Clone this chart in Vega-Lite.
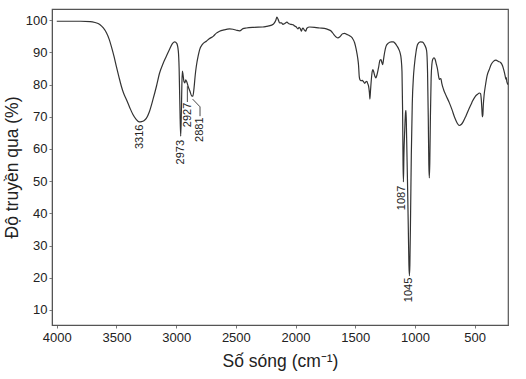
{
  "$schema": "https://vega.github.io/schema/vega-lite/v6.json",
  "width": 456,
  "height": 316,
  "autosize": {"type": "none"},
  "padding": {"left": 52, "top": 9, "right": 18, "bottom": 54},
  "background": "white",
  "config": {
    "view": {"stroke": "#555", "strokeWidth": 1.2},
    "axis": {
      "labelFont": "Liberation Sans",
      "titleFont": "Liberation Sans",
      "labelFontSize": 13,
      "titleFontSize": 17.5,
      "titleFontWeight": "normal",
      "labelColor": "#222",
      "titleColor": "#222",
      "domainColor": "#555",
      "tickColor": "#777",
      "tickSize": 3,
      "grid": false
    }
  },
  "datasets": {
    "spec": [
      {"w":4000,"t":99.7},{"w":3900,"t":99.7},{"w":3800,"t":99.7},{"w":3720,"t":99.6},{"w":3680,"t":99.3},
      {"w":3640,"t":98.7},{"w":3610,"t":97.6},{"w":3584,"t":96.1},{"w":3560,"t":94},{"w":3543,"t":91.9},
      {"w":3520,"t":88.7},{"w":3501,"t":85.7},{"w":3480,"t":82.5},{"w":3459,"t":79.5},{"w":3440,"t":77.3},
      {"w":3417,"t":75.4},{"w":3390,"t":73},{"w":3362,"t":70.7},{"w":3335,"t":69.2},{"w":3310,"t":68.4},
      {"w":3290,"t":68.5},{"w":3270,"t":68.8},{"w":3250,"t":69.5},{"w":3225,"t":71.5},{"w":3194,"t":75.4},
      {"w":3165,"t":79.5},{"w":3138,"t":83.7},{"w":3110,"t":86.5},{"w":3082,"t":88.8},{"w":3055,"t":91},
      {"w":3030,"t":92.8},{"w":3012,"t":93.3},{"w":2995,"t":92.8},{"w":2982,"t":90.5},{"w":2975,"t":85},
      {"w":2968,"t":72},{"w":2962,"t":64},{"w":2957,"t":70},{"w":2952,"t":80},{"w":2948,"t":84.2},
      {"w":2942,"t":83},{"w":2935,"t":81},{"w":2927,"t":80.5},{"w":2920,"t":81.5},{"w":2912,"t":81},
      {"w":2900,"t":79.5},{"w":2885,"t":78},{"w":2870,"t":76.5},{"w":2860,"t":76.4},{"w":2850,"t":79},
      {"w":2840,"t":83},{"w":2831,"t":85.7},{"w":2815,"t":89},{"w":2803,"t":90.9},{"w":2780,"t":92.5},
      {"w":2747,"t":93.5},{"w":2720,"t":94.3},{"w":2690,"t":95},{"w":2663,"t":96},{"w":2636,"t":96.6},
      {"w":2600,"t":97},{"w":2552,"t":97.3},{"w":2524,"t":97.2},{"w":2496,"t":96.9},{"w":2468,"t":96.7},
      {"w":2440,"t":97.4},{"w":2412,"t":97.6},{"w":2350,"t":97.8},{"w":2273,"t":97.9},{"w":2244,"t":98.1},
      {"w":2200,"t":98.5},{"w":2180,"t":99},{"w":2165,"t":100},{"w":2156,"t":101},{"w":2145,"t":100.2},
      {"w":2133,"t":99.2},{"w":2118,"t":99.2},{"w":2105,"t":98.7},{"w":2090,"t":99},{"w":2072,"t":99.4},
      {"w":2055,"t":98.9},{"w":2035,"t":98.7},{"w":2020,"t":98.6},{"w":2007,"t":98.2},{"w":1995,"t":98},
      {"w":1980,"t":97.3},{"w":1970,"t":97.8},{"w":1960,"t":97.4},{"w":1951,"t":96.6},{"w":1944,"t":97.3},
      {"w":1938,"t":97.6},{"w":1927,"t":97},{"w":1915,"t":96.6},{"w":1905,"t":97.5},{"w":1882,"t":97.9},
      {"w":1840,"t":97.8},{"w":1798,"t":97.6},{"w":1742,"t":97.3},{"w":1720,"t":97},{"w":1700,"t":96.6},
      {"w":1680,"t":95.6},{"w":1660,"t":94.8},{"w":1645,"t":94.5},{"w":1625,"t":95},{"w":1605,"t":95.8},
      {"w":1589,"t":95.9},{"w":1570,"t":95.6},{"w":1547,"t":95.2},{"w":1525,"t":94.5},{"w":1505,"t":93},
      {"w":1492,"t":91},{"w":1480,"t":88.5},{"w":1472,"t":86},{"w":1466,"t":82.5},{"w":1460,"t":81.5},
      {"w":1452,"t":81.2},{"w":1440,"t":81.3},{"w":1432,"t":81},{"w":1420,"t":80.4},{"w":1410,"t":80.9},
      {"w":1402,"t":81},{"w":1395,"t":80.3},{"w":1388,"t":79.5},{"w":1381,"t":77.5},{"w":1377,"t":75.5},
      {"w":1372,"t":78},{"w":1365,"t":81.5},{"w":1358,"t":84},{"w":1352,"t":84.7},{"w":1345,"t":84},
      {"w":1335,"t":82.6},{"w":1327,"t":82.1},{"w":1318,"t":83},{"w":1305,"t":85.2},{"w":1292,"t":87.6},
      {"w":1284,"t":87.8},{"w":1276,"t":86.8},{"w":1270,"t":86.2},{"w":1262,"t":88},{"w":1254,"t":89.9},
      {"w":1242,"t":91.9},{"w":1225,"t":92.8},{"w":1198,"t":93.3},{"w":1180,"t":93.3},{"w":1170,"t":93},
      {"w":1150,"t":92},{"w":1135,"t":91},{"w":1125,"t":90},{"w":1115,"t":88},{"w":1108,"t":84},
      {"w":1103,"t":72},{"w":1099,"t":55},{"w":1096,"t":49.8},{"w":1092,"t":58},{"w":1085,"t":66},
      {"w":1078,"t":71.5},{"w":1074,"t":72},{"w":1070,"t":65},{"w":1062,"t":50},{"w":1055,"t":35},
      {"w":1050,"t":24},{"w":1046,"t":20.6},{"w":1042,"t":24},{"w":1036,"t":40},{"w":1030,"t":58},
      {"w":1022,"t":74},{"w":1012,"t":82.5},{"w":1005,"t":85.7},{"w":990,"t":90.3},{"w":977,"t":92.5},
      {"w":955,"t":93.3},{"w":935,"t":93.2},{"w":918,"t":92.3},{"w":902,"t":90.6},{"w":894,"t":84},
      {"w":888,"t":70},{"w":883,"t":55},{"w":879,"t":51},{"w":875,"t":56},{"w":870,"t":70},
      {"w":864,"t":82},{"w":857,"t":86.5},{"w":851,"t":87.8},{"w":840,"t":88.3},{"w":830,"t":87.8},
      {"w":820,"t":86.3},{"w":810,"t":84.7},{"w":800,"t":82.3},{"w":795,"t":81.6},{"w":788,"t":81.8},
      {"w":782,"t":81.9},{"w":775,"t":80.5},{"w":760,"t":78.5},{"w":740,"t":76.7},{"w":712,"t":74.4},
      {"w":690,"t":72.3},{"w":665,"t":69.6},{"w":645,"t":68},{"w":628,"t":67.3},{"w":612,"t":67.6},
      {"w":595,"t":68.5},{"w":573,"t":70.2},{"w":550,"t":72.2},{"w":530,"t":73.8},{"w":517,"t":74.9},
      {"w":495,"t":76.3},{"w":475,"t":77},{"w":460,"t":77.4},{"w":450,"t":77.2},{"w":444,"t":75.5},
      {"w":439,"t":72.5},{"w":435,"t":70},{"w":431,"t":70.5},{"w":427,"t":73.5},{"w":420,"t":76.8},
      {"w":410,"t":79.5},{"w":395,"t":82.8},{"w":377,"t":84.7},{"w":360,"t":86.3},{"w":340,"t":87.3},
      {"w":321,"t":87.6},{"w":300,"t":87.2},{"w":280,"t":86.8},{"w":265,"t":85.8},{"w":255,"t":84.5},
      {"w":243,"t":82.6},{"w":238,"t":81.7},{"w":234,"t":82.2},{"w":230,"t":81},{"w":226,"t":80.5},
      {"w":222,"t":80}
    ],
    "leaders": [
      {"w":2906,"t":79.5,"w2":2906,"t2":74.6},
      {"w":2862,"t":75.5,"w2":2800,"t2":73.1},
      {"w":2800,"t":73.1,"w2":2800,"t2":70.2}
    ],
    "labels": [
      {"w":3305,"t":67.6,"label":"3316"},
      {"w":2962,"t":62.8,"label":"2973"},
      {"w":2900,"t":74.4,"label":"2927"},
      {"w":2799,"t":69.8,"label":"2881"},
      {"w":1112,"t":48.6,"label":"1087"},
      {"w":1047,"t":20,"label":"1045"}
    ]
  },
  "encoding": {
    "x": {
      "field": "w", "type": "quantitative",
      "scale": {"domain": [220, 4040], "reverse": true, "nice": false, "zero": false},
      "axis": {"values": [500,1000,1500,2000,2500,3000,3500,4000], "format": "d", "title": "Số sóng (cm⁻¹)", "labelPadding": 3, "titlePadding": 8, "labelOverlap": false, "labelFlush": false}
    },
    "y": {
      "field": "t", "type": "quantitative",
      "scale": {"domain": [5.3, 103.5], "nice": false, "zero": false},
      "axis": {"values": [10,20,30,40,50,60,70,80,90,100], "format": "d", "title": "Độ truyền qua (%)", "labelPadding": 2, "titlePadding": 4, "labelOverlap": false, "labelFlush": false, "labelBound": false}
    }
  },
  "layer": [
    {
      "data": {"name": "spec"},
      "mark": {"type": "line", "color": "#333", "strokeWidth": 1.2, "interpolate": "monotone"}
    },
    {
      "data": {"name": "leaders"},
      "mark": {"type": "rule", "color": "#333", "strokeWidth": 0.9},
      "encoding": {
        "x2": {"field": "w2"},
        "y2": {"field": "t2"}
      }
    },
    {
      "data": {"name": "labels"},
      "mark": {"type": "text", "angle": 270, "align": "right", "baseline": "middle", "font": "Liberation Sans", "fontSize": 11, "color": "#222"},
      "encoding": {
        "text": {"field": "label"}
      }
    }
  ]
}
